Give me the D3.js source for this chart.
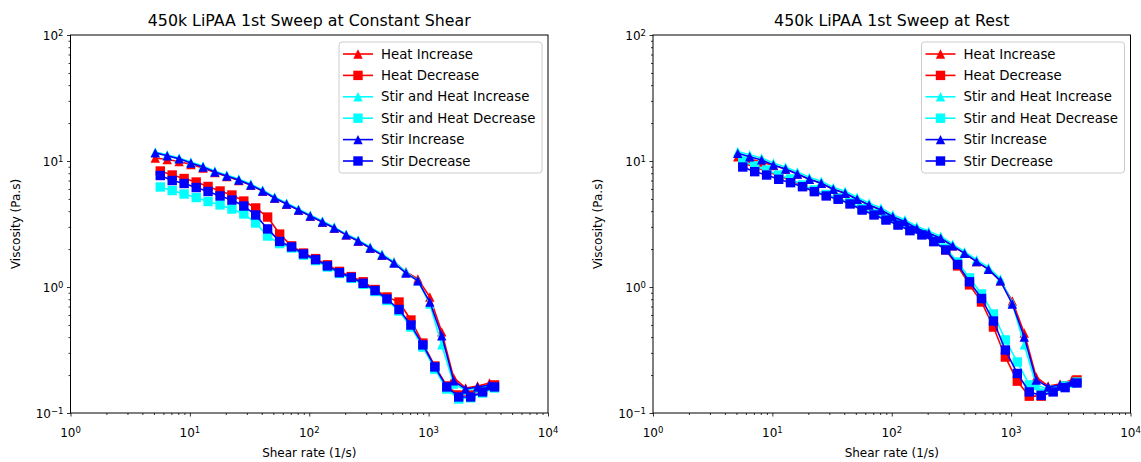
<!DOCTYPE html>
<html>
<head>
<meta charset="utf-8">
<script src="https://cdn.jsdelivr.net/npm/d3@7"></script>
<style>
  body { margin: 0; background: #fff; }
  svg { font-family: "DejaVu Sans", sans-serif; }
</style>
</head>
<body>
<div id="chart"></div>
<script>
// shear rates (1/s) of the up and down sweeps
var shearUp = [5.13, 6.46, 8.13, 10.2, 12.9, 16.2, 20.4, 25.7, 32.4, 40.7, 51.3, 64.6, 81.3, 102, 129, 162, 204, 257, 324, 407, 513, 646, 813, 1023, 1288, 1622, 2042, 2570, 3236];
var shearDown = [5.65, 7.11, 8.95, 11.3, 14.2, 17.9, 22.5, 28.3, 35.6, 44.8, 56.5, 71.1, 89.5, 113, 142, 179, 225, 283, 356, 448, 565, 711, 895, 1127, 1419, 1786, 2249, 2831, 3564];

var seriesNames = ["Heat Increase", "Heat Decrease", "Stir and Heat Increase", "Stir and Heat Decrease", "Stir Increase", "Stir Decrease"];
var titles = ["450k LiPAA 1st Sweep at Constant Shear", "450k LiPAA 1st Sweep at Rest"];

// viscosity (Pa.s), constant shear panel
var constHeatInc = [10.56, 10.28, 9.91, 9.38, 8.80, 8.10, 7.53, 7.00, 6.45, 5.78, 5.09, 4.56, 4.08, 3.66, 3.28, 2.94, 2.59, 2.32, 2.04, 1.79, 1.58, 1.32, 1.16, 0.833, 0.44, 0.19, 0.158, 0.164, 0.173];
var constHeatDec = [8.33, 7.74, 7.26, 6.81, 6.28, 5.78, 5.37, 4.81, 4.24, 3.59, 2.63, 2.12, 1.86, 1.68, 1.50, 1.33, 1.21, 1.10, 0.955, 0.833, 0.76, 0.547, 0.359, 0.236, 0.164, 0.139, 0.139, 0.152, 0.167];
var constStirHeatInc = [11.8, 11.2, 10.56, 9.82, 9.13, 8.33, 7.74, 7.20, 6.57, 5.89, 5.18, 4.64, 4.16, 3.73, 3.34, 2.99, 2.63, 2.36, 2.08, 1.83, 1.58, 1.32, 1.12, 0.733, 0.347, 0.17, 0.152, 0.158, 0.164];
var constStirHeatDec = [6.22, 5.83, 5.47, 5.13, 4.77, 4.48, 4.16, 3.80, 3.22, 2.54, 2.21, 2.04, 1.79, 1.62, 1.44, 1.28, 1.17, 1.05, 0.921, 0.782, 0.645, 0.481, 0.334, 0.223, 0.155, 0.129, 0.132, 0.144, 0.158];
var constStirInc = [11.6, 11.0, 10.4, 9.64, 8.96, 8.18, 7.60, 7.07, 6.45, 5.78, 5.09, 4.56, 4.08, 3.66, 3.28, 2.94, 2.59, 2.32, 2.04, 1.79, 1.55, 1.29, 1.12, 0.76, 0.41, 0.18, 0.155, 0.161, 0.167];
var constStirDec = [7.67, 7.00, 6.63, 6.16, 5.73, 5.28, 4.90, 4.39, 3.73, 2.89, 2.30, 2.08, 1.83, 1.65, 1.47, 1.30, 1.19, 1.07, 0.938, 0.803, 0.663, 0.499, 0.347, 0.232, 0.161, 0.134, 0.134, 0.147, 0.161];

// viscosity (Pa.s), rest panel
var restHeatInc = [10.8, 10.4, 9.82, 9.21, 8.64, 7.88, 7.16, 6.65, 5.96, 5.54, 4.97, 4.48, 4.08, 3.61, 3.30, 2.92, 2.67, 2.44, 2.12, 1.85, 1.59, 1.38, 1.12, 0.774, 0.431, 0.193, 0.164, 0.17, 0.183];
var restHeatDec = [9.64, 8.96, 8.33, 7.60, 7.07, 6.37, 5.81, 5.37, 5.06, 4.64, 4.16, 3.80, 3.47, 3.16, 2.85, 2.63, 2.32, 1.97, 1.47, 1.04, 0.76, 0.481, 0.278, 0.179, 0.136, 0.136, 0.150, 0.164, 0.183];
var restStirHeatInc = [11.9, 11.2, 10.56, 9.64, 8.96, 8.18, 7.42, 6.90, 6.18, 5.75, 5.15, 4.64, 4.24, 3.75, 3.42, 3.03, 2.77, 2.53, 2.19, 1.91, 1.65, 1.43, 1.16, 0.746, 0.347, 0.167, 0.155, 0.164, 0.173];
var restStirHeatDec = [10.0, 9.13, 8.48, 7.74, 7.20, 6.45, 5.89, 5.42, 5.09, 4.68, 4.20, 3.83, 3.50, 3.19, 2.89, 2.66, 2.36, 2.04, 1.58, 1.18, 0.88, 0.611, 0.38, 0.254, 0.167, 0.144, 0.152, 0.164, 0.176];
var restStirInc = [11.5, 10.8, 10.2, 9.30, 8.64, 7.88, 7.16, 6.65, 5.96, 5.54, 4.97, 4.48, 4.08, 3.61, 3.30, 2.92, 2.67, 2.44, 2.12, 1.85, 1.59, 1.38, 1.12, 0.733, 0.401, 0.183, 0.161, 0.167, 0.176];
var restStirDec = [8.96, 8.23, 7.74, 7.16, 6.73, 6.25, 5.71, 5.28, 4.97, 4.56, 4.08, 3.73, 3.40, 3.10, 2.80, 2.59, 2.29, 1.97, 1.51, 1.10, 0.81, 0.537, 0.316, 0.206, 0.147, 0.138, 0.147, 0.159, 0.173];

var width = 1141, height = 462;
var plotTop = 35, plotBottom = 413;

var colors = ["#ff0000", "#ff0000", "#00ffff", "#00ffff", "#0000ff", "#0000ff"];
var shapes = ["tri", "sq", "tri", "sq", "tri", "sq"];

var panels = [
    { left: 70.5, right: 548, title: titles[0],
      data: [constHeatInc, constHeatDec, constStirHeatInc, constStirHeatDec, constStirInc, constStirDec] },
    { left: 653, right: 1130.5, title: titles[1],
      data: [restHeatInc, restHeatDec, restStirHeatInc, restStirHeatDec, restStirInc, restStirDec] }
];

var svg = d3.select("#chart")
    .append("svg")
    .attr("width", width)
    .attr("height", height);

function markerPath(shape) {
    var s = 4.7;
    if (shape == "tri") return "M0," + (-s) + "L" + s + "," + s + "L" + (-s) + "," + s + "Z";
    return "M" + (-s) + "," + (-s) + "H" + s + "V" + s + "H" + (-s) + "Z";
}

function minors(lo, hi) {
    var out = [];
    for (var d = lo; d < hi; d *= 10)
        for (var k = 2; k <= 9; k++) out.push(k * d);
    return out;
}

function powLabel(sel, exp) {
    sel.append("tspan").text("10");
    sel.append("tspan")
        .attr("dy", "-0.45em")
        .attr("font-size", "8.5px")
        .text(exp < 0 ? "\u2212" + (-exp) : exp);
}

panels.forEach(function(p) {
    var x = d3.scaleLog().domain([1, 1e4]).range([p.left, p.right]);
    var y = d3.scaleLog().domain([0.1, 100]).range([plotBottom, plotTop]);
    var g = svg.append("g");

    // minor ticks
    g.append("g")
        .attr("transform", "translate(0," + plotBottom + ")")
        .call(d3.axisBottom(x).tickValues(minors(1, 1e4)).tickSize(2).tickFormat(""))
        .call(function(a) { a.select(".domain").remove(); });
    g.append("g")
        .attr("transform", "translate(" + p.left + ",0)")
        .call(d3.axisLeft(y).tickValues(minors(0.1, 100)).tickSize(2).tickFormat(""))
        .call(function(a) { a.select(".domain").remove(); });

    // major ticks
    g.append("g")
        .attr("transform", "translate(0," + plotBottom + ")")
        .call(d3.axisBottom(x).tickValues([1, 10, 100, 1000, 10000]).tickSize(3.5).tickFormat(""))
        .call(function(a) { a.select(".domain").remove(); });
    g.append("g")
        .attr("transform", "translate(" + p.left + ",0)")
        .call(d3.axisLeft(y).tickValues([0.1, 1, 10, 100]).tickSize(3.5).tickFormat(""))
        .call(function(a) { a.select(".domain").remove(); });
    g.selectAll(".tick line").attr("stroke", "#000").attr("stroke-width", 0.8);

    [0, 1, 2, 3, 4].forEach(function(e) {
        var t = g.append("text")
            .attr("x", x(Math.pow(10, e)))
            .attr("y", 437)
            .attr("text-anchor", "middle")
            .attr("font-size", "12px")
            .attr("fill", "#000");
        powLabel(t, e);
    });
    [-1, 0, 1, 2].forEach(function(e) {
        var t = g.append("text")
            .attr("x", p.left - 7)
            .attr("y", y(Math.pow(10, e)) + 4.5)
            .attr("text-anchor", "end")
            .attr("font-size", "12px")
            .attr("fill", "#000");
        powLabel(t, e);
    });

    // axis captions and title
    g.append("text")
        .attr("x", (p.left + p.right) / 2)
        .attr("y", 457)
        .attr("text-anchor", "middle")
        .attr("font-size", "12px")
        .text("Shear rate (1/s)");
    g.append("text")
        .attr("transform", "translate(" + (p.left - 51) + "," + ((plotTop + plotBottom) / 2) + ") rotate(-90)")
        .attr("text-anchor", "middle")
        .attr("font-size", "12px")
        .text("Viscosity (Pa.s)");
    g.append("text")
        .attr("x", (p.left + p.right) / 2)
        .attr("y", 26)
        .attr("text-anchor", "middle")
        .attr("font-size", "15.8px")
        .text(p.title);

    // series
    p.data.forEach(function(vals, k) {
        var xs = shapes[k] == "tri" ? shearUp : shearDown;
        var pts = vals.map(function(v, i) { return [xs[i], v]; });
        var line = d3.line()
            .x(function(d) { return x(d[0]); })
            .y(function(d) { return y(d[1]); });
        g.append("path")
            .datum(pts)
            .attr("d", line)
            .attr("fill", "none")
            .attr("stroke", colors[k])
            .attr("stroke-width", 1.6)
            .attr("stroke-linejoin", "round");
        g.selectAll(".m" + k)
            .data(pts)
            .enter().append("path")
            .attr("class", "m" + k)
            .attr("d", markerPath(shapes[k]))
            .attr("transform", function(d) { return "translate(" + x(d[0]) + "," + y(d[1]) + ")"; })
            .attr("fill", colors[k]);
    });

    // frame
    g.append("rect")
        .attr("x", p.left)
        .attr("y", plotTop)
        .attr("width", p.right - p.left)
        .attr("height", plotBottom - plotTop)
        .attr("fill", "none")
        .attr("stroke", "#000")
        .attr("stroke-width", 1);

    // legend
    var lw = 203, lx = p.right - 6 - lw, ly = 42;
    g.append("rect")
        .attr("x", lx)
        .attr("y", ly)
        .attr("width", lw)
        .attr("height", 131)
        .attr("rx", 3)
        .attr("fill", "#fff")
        .attr("fill-opacity", 0.8)
        .attr("stroke", "#cccccc");
    seriesNames.forEach(function(name, k) {
        var ry = 54 + k * 21.4;
        g.append("line")
            .attr("x1", lx + 4).attr("x2", lx + 34)
            .attr("y1", ry).attr("y2", ry)
            .attr("stroke", colors[k])
            .attr("stroke-width", 1.6);
        g.append("path")
            .attr("d", markerPath(shapes[k]))
            .attr("transform", "translate(" + (lx + 19) + "," + ry + ")")
            .attr("fill", colors[k]);
        g.append("text")
            .attr("x", lx + 42)
            .attr("y", ry + 4.5)
            .attr("font-size", "13.3px")
            .text(name);
    });
});
</script>
</body>
</html>
